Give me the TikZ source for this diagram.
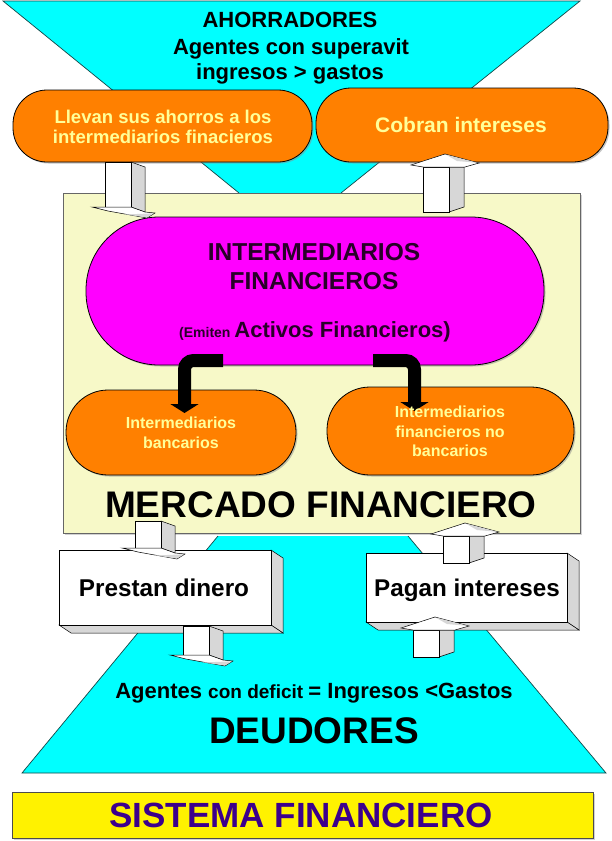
\documentclass[tikz,border=0pt]{standalone}
\usepackage{fontspec}
\setmainfont{Liberation Sans}
\usetikzlibrary{arrows.meta,shadows}
\definecolor{cyanf}{RGB}{0,255,255}
\definecolor{trapline}{RGB}{20,70,70}
\definecolor{orangef}{RGB}{255,128,0}
\definecolor{paleyel}{RGB}{247,249,200}
\definecolor{lighttxt}{RGB}{255,255,153}
\definecolor{magf}{RGB}{255,0,255}
\definecolor{darktxt}{RGB}{40,0,40}
\definecolor{purp}{RGB}{60,0,140}
\definecolor{sidegrey}{RGB}{215,215,215}
\tikzset{
  fs/.style={font=\fontsize{#1}{#1}\selectfont\bfseries},
  txt/.style={inner sep=0pt, anchor=base},
  obox/.style={draw=black, fill=orangef, line width=0.8pt, inner sep=0pt,
    drop shadow={shadow xshift=1.5pt, shadow yshift=-1.5pt, fill=black!45}},
  wface/.style={draw=black, fill=white, line width=0.5pt},
  gface/.style={draw=black, fill=sidegrey, line width=0.5pt},
  bentarrow/.style={line width=13pt, rounded corners=9pt, -{Triangle[width=28pt,length=9pt]}},
}
% 3D block arrows: #1 = shaft left x, #2 = shaft top y, #3 = shaft bottom y
\newcommand\blockdown[3]{%
  \draw[gface] (#1+26,#2) -- (#1+40,#2+5) -- (#1+40,#3+5) -- (#1+26,#3) -- cycle;
  \draw[wface] (#1,#2) rectangle (#1+26,#3);
  \draw[wface] (#1-13,#3) -- (#1,#3) -- (#1+26,#3) -- (#1+40,#3+5) -- (#1+50,#3+6)
     -- (#1+42,#3+11) -- (#1+3,#3+4) -- cycle;
  \fill[sidegrey] (#1+20,#3+7.5) -- (#1+42,#3+10.3) -- (#1+49,#3+6.3) -- cycle;
}
\newcommand\blockup[3]{%
  \draw[gface] (#1+26,#2) -- (#1+41,#2) -- (#1+41,#3-5) -- (#1+26,#3) -- cycle;
  \draw[wface] (#1,#2) rectangle (#1+26,#3);
  \draw[wface] (#1-12,#2-2) -- (#1+22,#2-13) -- (#1+56,#2-4) -- (#1+42,#2) -- (#1,#2) -- cycle;
  \fill[sidegrey] (#1+23,#2-12.3) -- (#1+54.5,#2-4.2) -- (#1+34,#2-6) -- cycle;
}
\begin{document}
\begin{tikzpicture}[x=1pt,y=-1pt]
\useasboundingbox (0,0) rectangle (611,841);
\fill[white] (0,0) rectangle (611,841);

% cyan trapezoids
\fill[cyanf] (3,1) -- (580,1) -- (341,193) -- (239,193) -- cycle;
\draw[trapline, line width=0.7pt] (239,193) -- (3,1) -- (580,1) -- (341,193);
\fill[cyanf] (218,536) -- (408,536) -- (606,773) -- (22,773) -- cycle;
\draw[trapline, line width=0.7pt] (218,536) -- (22,773) -- (606,773) -- (408,536);

% mercado financiero frame
\node[draw=black!60, fill=paleyel, minimum width=517pt, minimum height=340pt, inner sep=0pt,
  drop shadow={shadow xshift=2pt, shadow yshift=-2pt, fill=black!35}] (mercado) at (321.5,363) {};

% top orange boxes
\node[obox, rounded corners=34pt, minimum width=299pt, minimum height=72pt] (llevan) at (162.5,126) {};
\node[obox, rounded corners=35pt, minimum width=292pt, minimum height=74pt] (cobran) at (462,125) {};

% intermediarios financieros
\node[draw=black, fill=magf, line width=0.8pt, rounded corners=73pt, minimum width=458pt,
  minimum height=148pt, inner sep=0pt,
  drop shadow={shadow xshift=1.5pt, shadow yshift=-1.5pt, fill=black!45}] (interm) at (315,291) {};

% lower orange boxes
\node[obox, rounded corners=42pt, minimum width=230pt, minimum height=85pt] (banc) at (181,432.5) {};
\node[obox, rounded corners=43pt, minimum width=247pt, minimum height=88pt] (nobanc) at (450.5,431) {};

% block arrows at the top
\blockdown{105}{162}{207}
\blockup{423}{167}{212}

% black bent arrows
\coordinate (la) at (223,360.5);
\coordinate (lb) at (184.5,413);
\coordinate (ra) at (373,360.5);
\coordinate (rb) at (414.5,411);
\draw[bentarrow] (la) -| (lb);
\draw[bentarrow] (ra) -| (rb);

% 3D white boxes
\draw[gface] (271,550) -- (283,558) -- (283,633) -- (271,625) -- cycle;
\draw[gface] (59,625) -- (271,625) -- (283,633) -- (71,633) -- cycle;
\node[wface, minimum width=212pt, minimum height=75pt, inner sep=0pt] (prestan) at (165,587.5) {};
\draw[gface] (567,553) -- (579,561) -- (579,630) -- (567,622) -- cycle;
\draw[gface] (366,622) -- (567,622) -- (579,630) -- (378,630) -- cycle;
\node[wface, minimum width=201pt, minimum height=69pt, inner sep=0pt] (pagan) at (466.5,587.5) {};

% block arrows at the bottom
\blockdown{135}{521}{548}
\blockup{443}{536}{563}
\blockdown{183}{626}{655}
\blockup{413}{630}{657}

% sistema financiero
\node[draw=black!70, fill=yellow, line width=0.8pt, minimum width=581pt, minimum height=46pt, inner sep=0pt,
  drop shadow={shadow xshift=2pt, shadow yshift=-2pt, fill=black!35}] (sistema) at (302.5,815) {};

% texts
\node[txt, fs=22] (t_ahorr) at (290,27) {AHORRADORES};
\node[txt, fs=22] (t_agsup) at (291,54) {Agentes con superavit};
\node[txt, fs=22] (t_ingr) at (290,79) {ingresos > gastos};
\node[txt, fs=18.5, text=lighttxt] (t_llev1) at (163,123) {Llevan sus ahorros a los};
\node[txt, fs=18.5, text=lighttxt] (t_llev2) at (163,143) {intermediarios finacieros};
\node[txt, fs=21, text=lighttxt] (t_cobr) at (461,132) {Cobran intereses};
\node[txt, fs=24.5, text=darktxt] (t_int1) at (314,260) {INTERMEDIARIOS};
\node[txt, fs=24.5, text=darktxt] (t_int2) at (314,289) {FINANCIEROS};
\node[txt, text=darktxt] (t_emit) at (315,337)
  {\fontsize{14}{14}\selectfont\bfseries(Emiten \fontsize{22}{22}\selectfont Activos Financieros)};
\node[txt, fs=16, text=lighttxt] (t_b1) at (181,428) {Intermediarios};
\node[txt, fs=16, text=lighttxt] (t_b2) at (181,448) {bancarios};
\node[txt, fs=16, text=lighttxt] (t_n1) at (450,417) {Intermediarios};
\node[txt, fs=16, text=lighttxt] (t_n2) at (450,437) {financieros no};
\node[txt, fs=16, text=lighttxt] (t_n3) at (450,456) {bancarios};
\node[txt, fs=37] (t_merc) at (321,517) {MERCADO FINANCIERO};
\node[txt, fs=24.3] (t_prest) at (164,596) {Prestan dinero};
\node[txt, fs=24.2] (t_pagan) at (467,596) {Pagan intereses};
\node[txt] (t_agdef) at (314,698)
  {\bfseries\fontsize{22}{22}\selectfont Agentes \fontsize{19}{19}\selectfont con deficit \fontsize{22}{22}\selectfont = Ingresos <Gastos};
\node[txt, fs=37] (t_deud) at (314,743) {DEUDORES};
\node[txt, fs=35, text=purp] (t_sist) at (301,827) {SISTEMA FINANCIERO};
\end{tikzpicture}
\end{document}
